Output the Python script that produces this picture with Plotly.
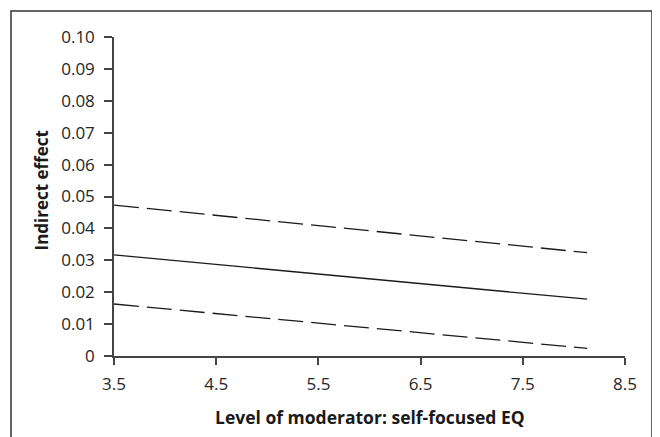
import plotly.graph_objects as go

# Data
moderator = [3.5, 8.13]
indirect_effect = [0.0317, 0.0178]
upper_ci = [0.0473, 0.0324]
lower_ci = [0.0163, 0.0024]

x_ticks = [3.5, 4.5, 5.5, 6.5, 7.5, 8.5]
x_ticklabels = ["3.5", "4.5", "5.5", "6.5", "7.5", "8.5"]
y_ticks = [0, 0.01, 0.02, 0.03, 0.04, 0.05, 0.06, 0.07, 0.08, 0.09, 0.10]
y_ticklabels = ["0", "0.01", "0.02", "0.03", "0.04", "0.05", "0.06", "0.07", "0.08", "0.09", "0.10"]

line_color = "#1a1a1a"
axis_color = "#444444"
font_family = "Open Sans, Noto Sans, sans-serif"

# figure size accounts for the page's 8px body margin
W, H = 652, 429
L, R, T, B = 106, 35, 29, 81
pw, ph = W - L - R, H - T - B


def px(x):
    return (x - L) / pw


def py(y):
    return (H - B - y) / ph


fig = go.Figure()
fig.add_trace(go.Scatter(x=moderator, y=upper_ci, mode="lines",
                         line=dict(color=line_color, width=1.3, dash="25px,8px"),
                         showlegend=False, hoverinfo="skip"))
fig.add_trace(go.Scatter(x=moderator, y=indirect_effect, mode="lines",
                         line=dict(color=line_color, width=1.3),
                         showlegend=False, hoverinfo="skip"))
fig.add_trace(go.Scatter(x=moderator, y=lower_ci, mode="lines",
                         line=dict(color=line_color, width=1.3, dash="25px,8px"),
                         showlegend=False, hoverinfo="skip"))

fig.update_layout(
    width=W, height=H,
    margin=dict(l=L, r=R, t=T, b=B),
    paper_bgcolor="white", plot_bgcolor="white",
    font=dict(family=font_family, size=17, color="#262626"),
    xaxis=dict(range=[3.5, 8.5], tickvals=x_ticks, ticktext=x_ticklabels,
               showline=True, linecolor=axis_color, linewidth=1.5,
               ticks="outside", ticklen=7, tickwidth=1.5, tickcolor=axis_color,
               ticklabelstandoff=5,
               showgrid=False, zeroline=False),
    yaxis=dict(range=[0, 0.10], tickvals=y_ticks, ticktext=y_ticklabels,
               showline=True, linecolor=axis_color, linewidth=1.5,
               ticks="outside", ticklen=8, tickwidth=1.5, tickcolor=axis_color,
               ticklabelstandoff=6,
               showgrid=False, zeroline=False),
    annotations=[
        dict(text="<b>Level of moderator: self-focused EQ</b>", xref="paper", yref="paper",
             x=px(361.5), y=py(409), xanchor="center", yanchor="middle", showarrow=False,
             font=dict(size=17.5, family=font_family, color="#1a1a1a")),
        dict(text="<b>Indirect effect</b>", xref="paper", yref="paper",
             x=px(33), y=py(182.5), xanchor="center", yanchor="middle", showarrow=False,
             textangle=-90, font=dict(size=17, family=font_family, color="#1a1a1a")),
    ],
    shapes=[dict(type="rect", xref="paper", yref="paper",
                 x0=px(3), x1=px(644), y0=py(440), y1=py(3),
                 line=dict(color="#333333", width=1.5), fillcolor="rgba(0,0,0,0)",
                 layer="below")],
)

fig.write_html("out.html")
